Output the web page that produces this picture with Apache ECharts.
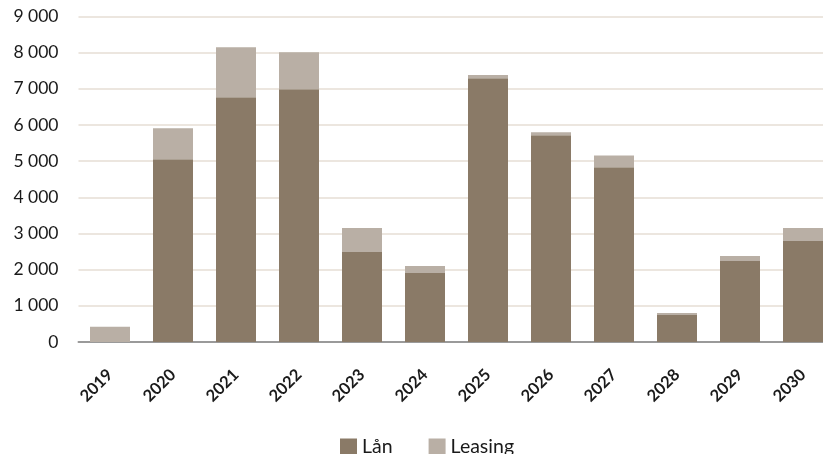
<!DOCTYPE html>
<html><head><meta charset="utf-8">
<script src="https://cdn.jsdelivr.net/npm/echarts@6/dist/echarts.min.js"></script>
<style>html,body{margin:0;padding:0;background:#fff}#c{width:823px;height:454px}</style>
</head><body><div id="c"></div>
<script>
const years = ['2019','2020','2021','2022','2023','2024','2025','2026','2027','2028','2029','2030'];
const lan = [0, 5050, 6770, 6990, 2490, 1910, 7290, 5720, 4830, 750, 2240, 2790];
const leasing = [420, 860, 1380, 1020, 660, 190, 90, 80, 330, 50, 140, 360];
const yTicks = {min: 0, max: 9000, interval: 1000};

const chart = echarts.init(document.getElementById('c'));
const font = 'Lato, "Open Sans", sans-serif';
chart.setOption({
  animation: false,
  grid: {left: 78.5, top: 16.5, width: 756, height: 325.5, outerBoundsMode: 'none', containLabel: false},
  legend: {
    data: ['Lån', 'Leasing'], top: 432, left: 335,
    itemWidth: 17, itemHeight: 17, itemGap: 36,
    textStyle: {fontFamily: font, fontSize: 19.5, color: '#1a1a1a'},
    icon: 'rect'
  },
  xAxis: {
    type: 'category', data: years,
    axisLine: {lineStyle: {color: '#9a9a9a', width: 2}},
    axisTick: {show: false},
    axisLabel: {rotate: 45, fontFamily: font, fontWeight: 'bold', fontSize: 16.5, color: '#1a1a1a', margin: 30}
  },
  yAxis: {
    type: 'value', min: yTicks.min, max: yTicks.max, interval: yTicks.interval,
    axisLine: {show: false}, axisTick: {show: false},
    splitLine: {lineStyle: {color: '#ECE6DF', width: 2}},
    axisLabel: {fontFamily: font, fontSize: 17.5, color: '#1a1a1a', margin: 20,
      formatter: v => String(v).replace(/\B(?=(\d{3})+(?!\d))/g, ' ')}
  },
  series: [
    {name: 'Lån', type: 'bar', stack: 't', data: lan, barWidth: 40, itemStyle: {color: '#8A7A67'}},
    {name: 'Leasing', type: 'bar', stack: 't', data: leasing, barWidth: 40, itemStyle: {color: '#B9AFA5'}}
  ]
});
</script></body></html>
